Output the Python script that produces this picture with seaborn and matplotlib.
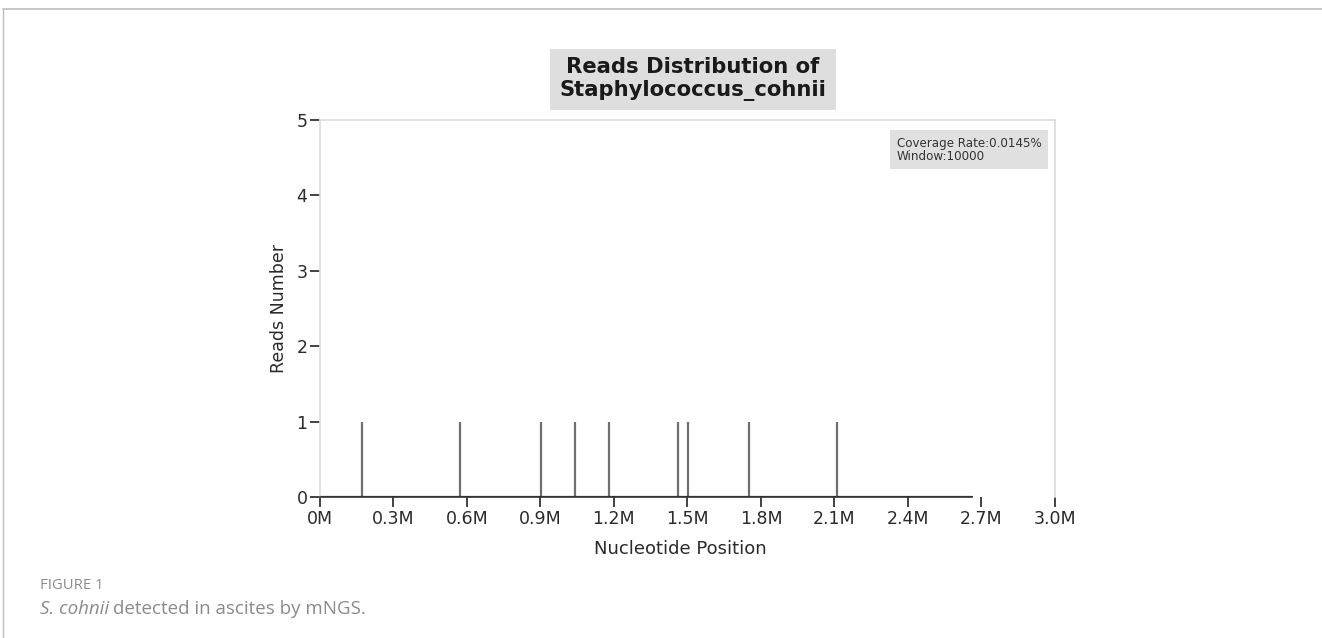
import numpy as np
import pandas as pd
import matplotlib
matplotlib.use("Agg")
import matplotlib.pyplot as plt
import seaborn as sns

# datos
positions_m = [0.171, 0.571, 0.901, 1.041, 1.180, 1.460, 1.501, 1.751, 2.109]
reads = [1, 1, 1, 1, 1, 1, 1, 1, 1]
genome_length_m = 2.66
x_ticks = [0.0, 0.3, 0.6, 0.9, 1.2, 1.5, 1.8, 2.1, 2.4, 2.7, 3.0]
x_labels = ["0M", "0.3M", "0.6M", "0.9M", "1.2M", "1.5M", "1.8M", "2.1M", "2.4M", "2.7M", "3.0M"]
y_ticks = [0, 1, 2, 3, 4, 5]

df = pd.DataFrame({"pos": positions_m, "reads": reads})

sns.set_theme(style="white")
plt.rcParams["font.family"] = ["DejaVu Sans"]

fig = plt.figure(figsize=(13.22, 6.38), dpi=100)
ax = fig.add_axes([0.242, 0.221, 0.556, 0.591])

# reads
ax.vlines(df["pos"], 0, df["reads"], color="#707070", linewidth=1.6)
# linea base del genoma
sns.lineplot(x=[0, genome_length_m], y=[0, 0], ax=ax, color="#333333", linewidth=1.6)

ax.set_xlim(0, 3.0)
ax.set_ylim(0, 5)
ax.set_xticks(x_ticks)
ax.set_xticklabels(x_labels, fontsize=12.5, color="#2a2a2a")
ax.set_yticks(y_ticks)
ax.set_yticklabels([str(v) for v in y_ticks], fontsize=12.5, color="#2a2a2a")
ax.set_xlabel("Nucleotide Position", fontsize=13, color="#2a2a2a", labelpad=6)
ax.xaxis.set_label_coords(0.49, -0.115)
ax.set_ylabel("Reads Number", fontsize=12.5, color="#2a2a2a", labelpad=6)

for s in ax.spines.values():
    s.set_color("#dcdcdc")
    s.set_linewidth(1.2)
ax.tick_params(axis="both", direction="out", length=7, width=1.3, color="#333333",
               bottom=True, left=True, pad=2)
ax.spines["bottom"].set_color("#333333")
ax.spines["bottom"].set_bounds(0, genome_length_m)

# titulo con caja gris
fig.text(0.524, 0.876, "Reads Distribution of\nStaphylococcus_cohnii", ha="center", va="center",
         fontsize=15.2, fontweight="bold", color="#1a1a1a", linespacing=1.15,
         bbox=dict(boxstyle="square,pad=0.45", facecolor="#dedede", edgecolor="none"))

# cuadro de cobertura
ax.text(0.785, 0.955, "Coverage Rate:0.0145%\nWindow:10000", transform=ax.transAxes,
        ha="left", va="top", fontsize=8.6, color="#333333", linespacing=1.0,
        bbox=dict(boxstyle="square,pad=0.55", facecolor="#e0e0e0", edgecolor="none"))

# marco de la figura
fig.add_artist(plt.Line2D([0.0025, 1.0], [0.986, 0.986], color="#bdbdbd", linewidth=1.2,
                          transform=fig.transFigure))
fig.add_artist(plt.Line2D([0.0025, 0.0025], [0.0, 0.986], color="#bdbdbd", linewidth=1.0,
                          transform=fig.transFigure))

# leyenda de la figura
fig.text(0.030, 0.083, "FIGURE 1", fontsize=10.7, color="#8a8a8a", family="Open Sans", va="center")
t1 = fig.text(0.030, 0.046, "S. cohnii", fontsize=13.5, color="#8a8a8a", family="Open Sans",
              style="italic", va="center")
fig.canvas.draw()
bb = t1.get_window_extent()
fig.text(bb.x1 / fig.bbox.width + 0.003, 0.046, "detected in ascites by mNGS.", fontsize=13.5,
         color="#8a8a8a", family="Open Sans", va="center")

fig.savefig("out.png", dpi=100)
